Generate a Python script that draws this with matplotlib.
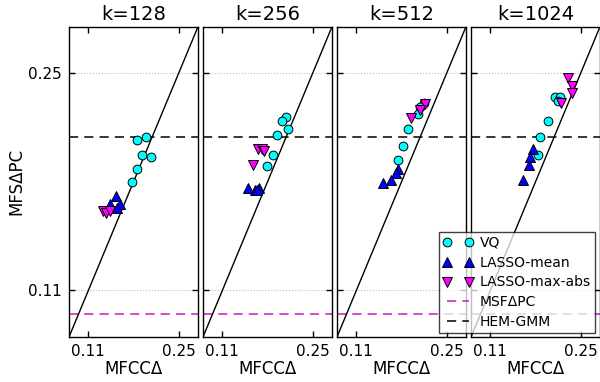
import matplotlib
matplotlib.use("Agg")
import matplotlib.pyplot as plt
from matplotlib.lines import Line2D

titles = ["k=128", "k=256", "k=512", "k=1024"]

vq_x = [
    [0.186, 0.199, 0.193, 0.207, 0.185, 0.178],
    [0.209, 0.202, 0.212, 0.195, 0.188, 0.179],
    [0.215, 0.209, 0.206, 0.190, 0.182, 0.175],
    [0.211, 0.218, 0.215, 0.200, 0.187, 0.184],
]
vq_y = [
    [0.207, 0.209, 0.197, 0.196, 0.188, 0.180],
    [0.222, 0.219, 0.214, 0.210, 0.197, 0.190],
    [0.231, 0.228, 0.224, 0.214, 0.203, 0.194],
    [0.235, 0.235, 0.232, 0.219, 0.209, 0.197],
]
lm_x = [
    [0.153, 0.143, 0.159, 0.155],
    [0.149, 0.161, 0.167, 0.164],
    [0.174, 0.172, 0.163, 0.152],
    [0.176, 0.172, 0.170, 0.160],
]
lm_y = [
    [0.171, 0.166, 0.166, 0.163],
    [0.176, 0.175, 0.176, 0.175],
    [0.188, 0.186, 0.181, 0.179],
    [0.201, 0.196, 0.191, 0.181],
]
lx_x = [
    [0.132, 0.138, 0.143],
    [0.166, 0.171, 0.175, 0.157],
    [0.216, 0.209, 0.195],
    [0.230, 0.236, 0.236, 0.220],
]
lx_y = [
    [0.161, 0.160, 0.161],
    [0.201, 0.201, 0.200, 0.191],
    [0.230, 0.226, 0.221],
    [0.247, 0.242, 0.237, 0.231],
]
msf_dpc = 0.095
hem_gmm = 0.209
lims = [0.08, 0.28]
ticks = [0.11, 0.25]
tick_labels = ["0.11", "0.25"]

MAG_LINE = "#c020c0"
DASH = (0, (6, 4))

fig = plt.figure(figsize=(6.0, 3.82), dpi=100)
left0 = 69 / 600
w = 129 / 600
step = 134 / 600
bottom = 1 - 337 / 382
height = (337 - 26.7) / 382

axes = []
for i in range(4):
    ax = fig.add_axes([left0 + i * step, bottom, w, height])
    axes.append(ax)
    ax.plot(lims, lims, color="black", lw=1, zorder=2)
    ax.axhline(hem_gmm, color="black", lw=1.1, ls=DASH, zorder=1)
    ax.axhline(msf_dpc, color=MAG_LINE, lw=1.1, ls=DASH, zorder=1)
    ax.plot(vq_x[i], vq_y[i], "o", color="cyan", mec="black", mew=0.7, ms=6.3, zorder=3)
    ax.plot(lm_x[i], lm_y[i], "^", color="blue", mec="black", mew=0.7, ms=6.8, zorder=3)
    ax.plot(lx_x[i], lx_y[i], "v", color="magenta", mec="black", mew=0.7, ms=6.8, zorder=3)
    ax.set_xlim(lims)
    ax.set_ylim(lims)
    ax.set_xticks(ticks)
    ax.set_xticklabels(tick_labels)
    ax.set_yticks(ticks)
    ax.grid(axis="y", color="#bbbbbb", ls=":", lw=0.8)
    ax.set_axisbelow(True)
    ax.tick_params(direction="in", top=True, right=True, length=4, width=1,
                   labelsize=11, pad=5)
    for s in ax.spines.values():
        s.set_linewidth(1)
    ax.set_title(titles[i], fontsize=14, pad=5)
    ax.set_xlabel("MFCC\u0394", fontsize=12, labelpad=1)
    if i == 0:
        ax.set_yticklabels(tick_labels)
        ax.set_ylabel("MFS\u0394PC", fontsize=12, labelpad=2)
    else:
        ax.set_yticklabels([])

handles = [
    Line2D([], [], ls="", marker="o", color="cyan", mec="black", mew=0.7, ms=6.3),
    Line2D([], [], ls="", marker="^", color="blue", mec="black", mew=0.7, ms=6.8),
    Line2D([], [], ls="", marker="v", color="magenta", mec="black", mew=0.7, ms=6.8),
    Line2D([], [], color=MAG_LINE, lw=1.1, ls=DASH),
    Line2D([], [], color="black", lw=1.1, ls=DASH),
]
labels = ["VQ", "LASSO-mean", "LASSO-max-abs", "MSF\u0394PC", "HEM-GMM"]
leg = axes[3].legend(handles, labels, loc="lower right", bbox_to_anchor=(0.962, 0.013),
                     borderaxespad=0, numpoints=2, fontsize=10, fancybox=False,
                     framealpha=0.75, edgecolor="black", handlelength=2.2,
                     handletextpad=0.5, labelspacing=0.42, borderpad=0.28)
leg.get_frame().set_linewidth(1)
leg.set_zorder(10)

fig.savefig("out.png", dpi=100)
